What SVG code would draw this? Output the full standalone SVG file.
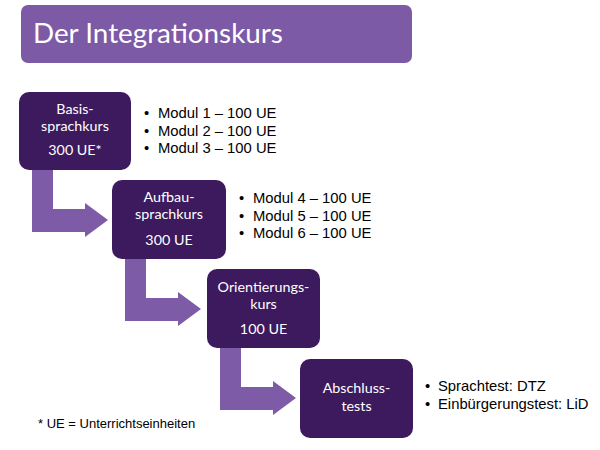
<svg xmlns="http://www.w3.org/2000/svg" width="600" height="450" viewBox="0 0 600 450">
<defs>
<style>
.node rect{fill:#3d1a5e;}
.node text{fill:#ffffff;font-family:Lato,"Open Sans",sans-serif;font-size:14.3px;text-anchor:middle;}
.arrow{fill:#7d5ba6;}
.list{font-family:"Liberation Sans",Arial,sans-serif;font-size:14.8px;fill:#000000;}
.title-text{fill:#ffffff;font-family:Lato,"Open Sans",sans-serif;font-size:27.8px;}
</style>
</defs>
<rect width="600" height="450" fill="#ffffff"/>
<g id="title">
<rect x="21" y="5" width="391" height="58" rx="7" fill="#7d5aa6"/>
<text class="title-text" x="33" y="43">Der Integrationskurs</text>
</g>
<g id="connectors">
<path class="arrow" d="M32,170 L53,170 L53,209 L85,209 L85,203 L108,220 L85,237 L85,232 L32,232 Z"/>
<path class="arrow" d="M125,259 L146,259 L146,298 L178,298 L178,292 L201,309 L178,326 L178,321 L125,321 Z"/>
<path class="arrow" d="M220,348 L241,348 L241,387 L273,387 L273,381 L296,398 L273,415 L273,410 L220,410 Z"/>
</g>
<g id="node-basis" class="node">
<rect x="19" y="92" width="112" height="78" rx="10"/>
<text x="75" y="113.5">Basis-</text>
<text x="75" y="130.5">sprachkurs</text>
<text x="75" y="155">300 UE*</text>
</g>
<g id="node-aufbau" class="node">
<rect x="112" y="180" width="114" height="79" rx="10"/>
<text x="169" y="202">Aufbau-</text>
<text x="169" y="219">sprachkurs</text>
<text x="169" y="245">300 UE</text>
</g>
<g id="node-orientierung" class="node">
<rect x="207" y="269" width="113" height="79" rx="10"/>
<text x="263.5" y="292">Orientierungs-</text>
<text x="263.5" y="309">kurs</text>
<text x="263.5" y="334">100 UE</text>
</g>
<g id="node-abschluss" class="node">
<rect x="300" y="359" width="113" height="79" rx="10"/>
<text x="356.5" y="393">Abschluss-</text>
<text x="356.5" y="411">tests</text>
</g>
<g id="list-basis" class="list">
<text x="144" y="118">•</text><text x="158" y="118">Modul 1 – 100 UE</text>
<text x="144" y="135.5">•</text><text x="158" y="135.5">Modul 2 – 100 UE</text>
<text x="144" y="153">•</text><text x="158" y="153">Modul 3 – 100 UE</text>
</g>
<g id="list-aufbau" class="list">
<text x="239" y="203">•</text><text x="253" y="203">Modul 4 – 100 UE</text>
<text x="239" y="220.5">•</text><text x="253" y="220.5">Modul 5 – 100 UE</text>
<text x="239" y="238">•</text><text x="253" y="238">Modul 6 – 100 UE</text>
</g>
<g id="list-abschluss" class="list">
<text x="425" y="391">•</text><text x="438" y="391">Sprachtest: DTZ</text>
<text x="425" y="408.5">•</text><text x="438" y="408.5">Einbürgerungstest: LiD</text>
</g>
<text id="footnote" x="38" y="428" font-family="'Liberation Sans',Arial,sans-serif" font-size="13" fill="#000000">* UE = Unterrichtseinheiten</text>
</svg>
